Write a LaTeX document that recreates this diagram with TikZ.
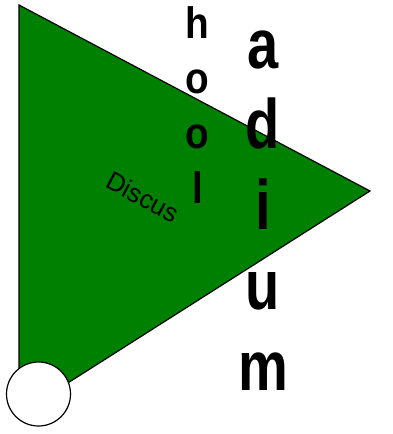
\documentclass[tikz,border=0pt]{standalone}
\usepackage{fontspec}
\setmainfont{Liberation Sans}
\usetikzlibrary{positioning}
\definecolor{discGreen}{HTML}{008000}
\tikzset{
  pennant/.style={draw=black, fill=discGreen, line width=1.2pt, line join=miter},
  discBall/.style={circle, draw=black, fill=white, line width=1.2pt,
                   minimum size=64pt, inner sep=0pt},
  smallLetter/.style={font=\bfseries\fontsize{44}{44}\selectfont, anchor=base,
                      inner sep=0pt, xscale=0.88},
  bigLetter/.style={font=\bfseries\fontsize{70}{70}\selectfont, anchor=base,
                    inner sep=0pt, xscale=0.8},
}
\begin{document}
\begin{tikzpicture}[x=1pt, y=-1pt]
  \useasboundingbox (0,0) rectangle (393,434);
  % triangle
  \coordinate (top) at (19,5);
  \coordinate (tip) at (370,191);
  \coordinate (foot) at (19,414);
  \draw[pennant] (top) -- (tip) -- (foot) -- cycle;
  \node[discBall] (disc) at (38.5,394) {};
  \node[rotate=-28, font=\fontsize{26}{26}\selectfont, inner sep=0pt] (lbl) at (143,197) {Discus};
  % vertical words
  \foreach \ch [count=\i] in {h,o,o,l}
    \node[smallLetter] (s\i) at (197.5,{38+55*(\i-1)}) {\ch};
  \foreach \ch [count=\i] in {a,d,i,u,m}
    \node[bigLetter] (b\i) at (263,{68+80.5*(\i-1)}) {\ch};
\end{tikzpicture}
\end{document}
